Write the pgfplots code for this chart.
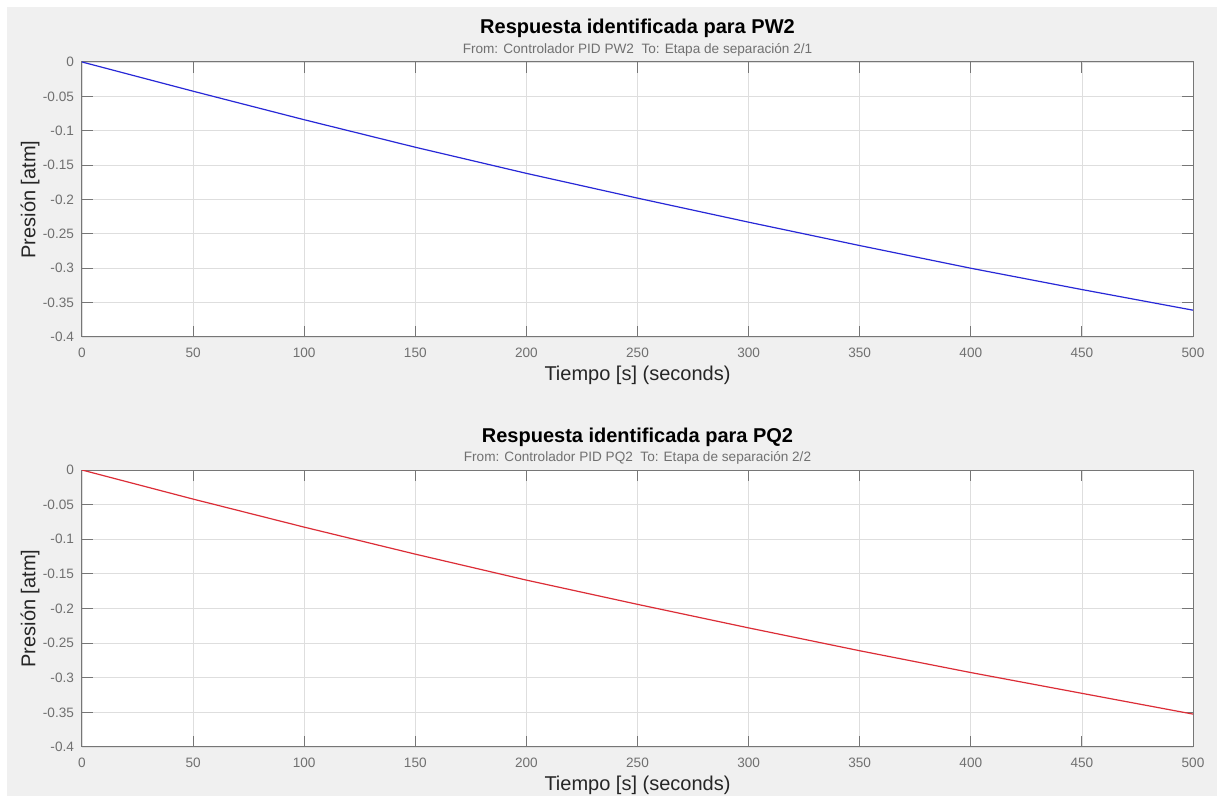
\documentclass[border=0pt]{standalone}
\usepackage{pgfplots}
\pgfplotsset{compat=1.18}
\usepackage{fontspec}
\setmainfont{Liberation Sans}
\definecolor{figbg}{HTML}{F0F0F0}
\definecolor{axcol}{HTML}{767676}
\definecolor{tickcol}{HTML}{707070}
\definecolor{gridcol}{HTML}{DEDEDE}
\definecolor{labcol}{HTML}{262626}
\definecolor{lblue}{RGB}{40,40,215}
\definecolor{lred}{RGB}{220,45,55}
\pgfplotstableread{
t y
0 0
50 -0.0425
100 -0.084
150 -0.124
200 -0.162
250 -0.198
300 -0.233
350 -0.267
400 -0.300
450 -0.331
500 -0.361
}\dataA
\pgfplotstableread{
t y
0 0
50 -0.042
100 -0.0825
150 -0.1215
200 -0.159
250 -0.194
300 -0.228
350 -0.261
400 -0.2925
450 -0.3225
500 -0.3525
}\dataB
\pgfplotsset{
  mystyle/.style={
    scale only axis,
    width=555.5pt,
    xmin=0, xmax=500, ymin=-0.4, ymax=0,
    xtick={0,50,...,500},
    xticklabels={0,50,100,150,200,250,300,350,400,450,500},
    ytick={-0.4,-0.35,-0.3,-0.25,-0.2,-0.15,-0.1,-0.05,0},
    yticklabels={-0.4,-0.35,-0.3,-0.25,-0.2,-0.15,-0.1,-0.05,0},
    tick align=inside,
    major tick length=5.5pt,
    every tick/.style={axcol, line width=0.5pt},
    axis line style={axcol, line width=0.5pt},
    axis background/.style={fill=white},
    grid=major,
    major grid style={gridcol, line width=0.4pt},
    ticklabel style={font=\fontsize{6.8pt}{7pt}\selectfont, text=tickcol},
    xticklabel style={yshift=-1.8pt},
    yticklabel style={xshift=-0.5pt},
    xlabel style={at={(axis description cs:0.5,0)}, anchor=center, yshift=-19pt, font=\fontsize{10pt}{11pt}\selectfont, text=labcol},
    ylabel style={at={(axis description cs:-0.0468,0.5)}, anchor=center, font=\fontsize{10pt}{11pt}\selectfont, text=labcol},
    xlabel={Tiempo [s] (seconds)},
    ylabel={Presión [atm]},
  }
}
\begin{document}
\begin{tikzpicture}
\path[use as bounding box, fill=white] (0,0) rectangle (609pt,398pt);
\fill[figbg] (3.5pt,0pt) rectangle (608.5pt,394.5pt);
\begin{axis}[mystyle, at={(41pt,229.5pt)}, anchor=south west, height=137.5pt]
\addplot[lblue, line width=0.6pt] table[x=t,y=y] {\dataA};
\end{axis}
\node[font=\bfseries\fontsize{10pt}{11pt}\selectfont, text=black] at (318.75pt,384pt) {Respuesta identificada para PW2};
\node[font=\fontsize{6.8pt}{7pt}\selectfont, text=tickcol] at (318.75pt,373pt) {From: Controlador PID PW2\ \ To: Etapa de separación 2/1};
\begin{axis}[mystyle, at={(41pt,24.5pt)}, anchor=south west, height=138.5pt]
\addplot[lred, line width=0.6pt] table[x=t,y=y] {\dataB};
\end{axis}
\node[font=\bfseries\fontsize{10pt}{11pt}\selectfont, text=black] at (318.75pt,179.5pt) {Respuesta identificada para PQ2};
\node[font=\fontsize{6.8pt}{7pt}\selectfont, text=tickcol] at (318.75pt,169pt) {From: Controlador PID PQ2\ \ To: Etapa de separación 2/2};
\end{tikzpicture}
\end{document}
